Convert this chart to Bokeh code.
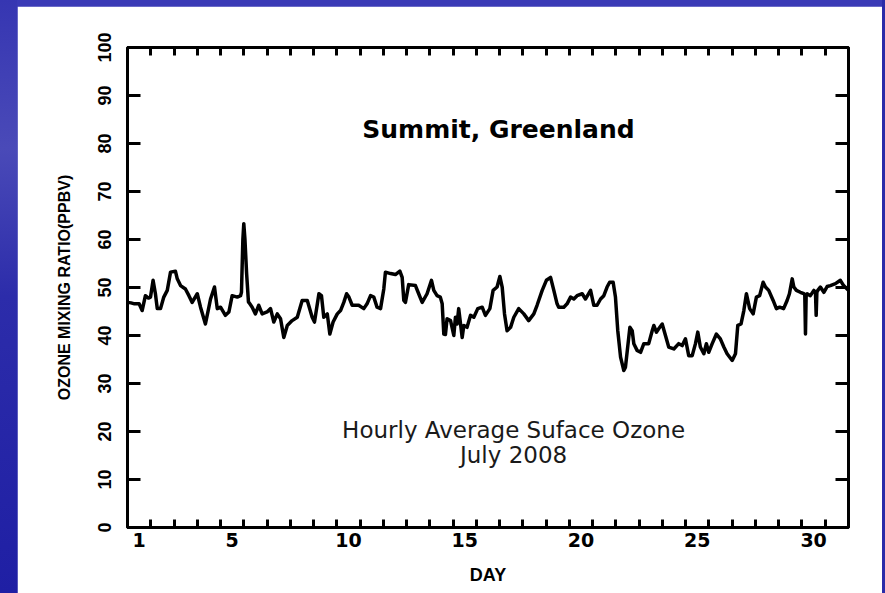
import numpy as np
from bokeh.plotting import figure
from bokeh.models import FixedTicker, LinearAxis, Label, Range1d, Spacer
from bokeh.layouts import row, column
from bokeh.embed import file_html
from bokeh.resources import INLINE

# ---- data: time in days of July 2008 (1.0 = July 1, 00:00), ozone in ppbv ----
DAY_TIME = [
    1.00, 1.15, 1.30, 1.50, 1.63, 1.77, 1.90, 1.99, 2.10, 2.20, 2.28, 2.42, 2.56, 2.71, 2.85,
    3.06, 3.14, 3.28, 3.49, 3.64, 3.78, 4.00, 4.14, 4.35, 4.50, 4.57, 4.74, 4.86, 5.00, 5.21,
    5.36, 5.50, 5.72, 5.86, 5.90, 5.96, 6.00, 6.05, 6.12, 6.20, 6.26, 6.36, 6.50, 6.64, 6.79,
    7.00, 7.15, 7.29, 7.44, 7.58, 7.72, 7.87, 8.08, 8.30, 8.51, 8.73, 8.94, 9.04, 9.23, 9.34,
    9.44, 9.59, 9.70, 9.84, 10.02, 10.16, 10.30, 10.42, 10.52, 10.66, 10.94, 11.16, 11.30, 11.45,
    11.59, 11.73, 11.88, 12.02, 12.09, 12.31, 12.52, 12.71, 12.81, 12.88, 12.95, 13.09, 13.38,
    13.52, 13.67, 13.88, 14.07, 14.17, 14.31, 14.45, 14.53, 14.60, 14.67, 14.74, 14.89, 15.03,
    15.10, 15.17, 15.24, 15.32, 15.39, 15.46, 15.60, 15.75, 15.89, 16.06, 16.25, 16.39, 16.58,
    16.72, 16.89, 17.01, 17.11, 17.21, 17.32, 17.47, 17.61, 17.82, 18.04, 18.25, 18.47, 18.61,
    18.83, 19.01, 19.19, 19.33, 19.47, 19.54, 19.76, 19.90, 20.05, 20.19, 20.33, 20.55, 20.69,
    20.91, 21.05, 21.19, 21.34, 21.48, 21.62, 21.73, 21.88, 21.98, 22.08, 22.20, 22.34, 22.41,
    22.60, 22.70, 22.77, 22.91, 23.06, 23.20, 23.41, 23.56, 23.63, 23.74, 23.84, 23.99, 24.13,
    24.27, 24.49, 24.70, 24.85, 24.99, 25.13, 25.28, 25.42, 25.52, 25.63, 25.78, 25.89, 25.99,
    26.14, 26.32, 26.49, 26.64, 26.78, 27.00, 27.14, 27.24, 27.38, 27.50, 27.61, 27.75, 27.90,
    28.04, 28.18, 28.33, 28.43, 28.57, 28.76, 28.90, 29.04, 29.21, 29.36, 29.46, 29.58, 29.65,
    29.76, 29.93, 30.08, 30.12, 30.15, 30.18, 30.22, 30.36, 30.51, 30.58, 30.61, 30.64, 30.68,
    30.79, 30.94, 31.08, 31.22, 31.44, 31.65, 31.79, 31.94, 32.00,
]
OZONE_PPBV = [
    46.9, 46.8, 46.6, 46.6, 45.2, 48.3, 47.8, 48.0, 51.5, 48.7, 45.6, 45.6, 48.0, 49.4, 53.2,
    53.4, 51.8, 50.4, 49.7, 48.3, 46.9, 48.7, 45.9, 42.4, 45.9, 47.6, 50.1, 45.6, 45.9, 44.2,
    44.9, 48.3, 48.0, 48.3, 49.0, 60.0, 63.3, 60.0, 53.0, 47.0, 46.6, 45.9, 44.5, 46.3, 44.5,
    44.9, 45.6, 42.8, 44.5, 43.5, 39.6, 42.1, 43.1, 43.8, 47.3, 47.3, 43.8, 42.8, 48.7, 48.3,
    43.8, 44.5, 40.3, 42.8, 44.5, 45.2, 46.9, 48.7, 48.0, 46.3, 46.3, 45.6, 46.6, 48.3,
    48.0, 45.9, 45.6, 49.7, 53.2, 52.9, 52.7, 53.4, 52.1, 47.3, 46.9, 50.6, 50.4,
    48.7, 46.9, 48.7, 51.5, 49.4, 48.3, 48.0, 46.6, 40.3, 40.2, 43.5, 43.1, 40.0,
    43.8, 42.4, 45.6, 42.4, 39.6, 42.1, 41.7, 44.2, 43.8, 45.6, 45.9, 44.2, 45.6,
    49.4, 50.1, 52.3, 50.1, 44.5, 41.0, 41.7, 43.8, 45.6, 44.5, 43.1, 44.5, 46.3,
    49.4, 51.5, 52.1, 49.4, 46.6, 45.9, 45.9, 46.6, 48.0, 47.6, 48.3, 48.7, 47.6,
    49.4, 46.3, 46.3, 47.6, 48.3, 50.1, 51.1, 51.1, 48.0, 41.0, 35.5, 32.7, 33.4,
    41.7, 41.0, 38.3, 36.9, 36.5, 38.3, 38.3, 41.0, 42.1, 40.7, 41.4, 42.4, 40.0,
    37.6, 37.2, 38.3, 37.9, 39.3, 35.8, 35.8, 38.3, 40.7, 37.6, 36.2, 38.3, 36.5,
    38.3, 40.3, 39.3, 37.6, 36.2, 34.8, 36.2, 42.1, 42.4, 45.2, 48.7, 45.6, 44.5,
    48.0, 48.3, 51.1, 50.1, 49.4, 47.3, 45.6, 45.9, 45.6, 47.3, 48.7, 51.8, 50.1,
    49.4, 49.0, 48.7, 48.5, 40.3, 48.5, 48.7, 48.3, 49.4, 49.0, 44.2, 49.0, 49.4,
    50.1, 49.0, 50.2, 50.4, 50.8, 51.5, 50.4, 49.7, 49.4,
]
DAY_LABELS = [1, 5, 10, 15, 20, 25, 30]
DAY_BOUNDS = list(range(2, 32))
Y_TICKS = [0, 10, 20, 30, 40, 50, 60, 70, 80, 90, 100]
Y_RIGHT_TICKS = [10, 20, 30, 40, 50, 60, 70, 80, 90]

# x axis convention: integer = noon of that day (day labels centred on each day)
x = np.array(DAY_TIME) - 0.5
bounds = [b - 0.5 for b in DAY_BOUNDS]

BOLD_NARROW = "'Liberation Sans Narrow', 'Liberation Sans', sans-serif"

p = figure(width=865, height=587, x_range=Range1d(0.5, 31.5), y_range=Range1d(0, 100),
           output_backend="svg", toolbar_location=None,
           min_border_left=110, min_border_right=34, min_border_top=41, min_border_bottom=66,
           background_fill_color="white", border_fill_color="white")
p.grid.visible = False
p.outline_line_color = "black"
p.outline_line_width = 3

p.line(x, OZONE_PPBV, line_color="black", line_width=3.5, line_join="round")

# bottom axis
xa = p.xaxis[0]
xa.ticker = FixedTicker(ticks=DAY_LABELS, minor_ticks=bounds)
xa.major_tick_in = 0
xa.major_tick_out = 0
xa.minor_tick_in = 8
xa.minor_tick_out = 0
xa.minor_tick_line_width = 3
xa.axis_line_width = 3
xa.major_label_standoff = 5
xa.major_label_text_font = "'DejaVu Sans', sans-serif"
xa.major_label_text_font_style = "bold"
xa.major_label_text_font_size = "19px"
xa.major_label_text_color = "black"
xa.axis_label = "DAY"
xa.axis_label_text_font = "'Liberation Sans', sans-serif"
xa.axis_label_text_font_style = "bold"
xa.axis_label_text_font_size = "18px"
xa.axis_label_text_color = "black"
xa.axis_label_standoff = 15

# left axis
ya = p.yaxis[0]
ya.ticker = FixedTicker(ticks=Y_TICKS, minor_ticks=[])
ya.major_tick_in = 13
ya.major_tick_out = 0
ya.major_tick_line_width = 3
ya.minor_tick_in = 0
ya.minor_tick_out = 0
ya.axis_line_width = 3
ya.major_label_orientation = "vertical"
ya.major_label_standoff = 17
ya.major_label_text_font = BOLD_NARROW
ya.major_label_text_font_style = "bold"
ya.major_label_text_font_size = "18px"
ya.major_label_text_color = "black"
ya.axis_label = "OZONE MIXING RATIO(PPBV)"
ya.axis_label_text_font = BOLD_NARROW
ya.axis_label_text_font_style = "bold"
ya.axis_label_text_font_size = "16px"
ya.axis_label_text_color = "black"
ya.axis_label_standoff = 22

# top axis (ticks only)
top = LinearAxis(ticker=FixedTicker(ticks=[], minor_ticks=bounds),
                 major_tick_in=0, major_tick_out=0, minor_tick_in=8, minor_tick_out=0,
                 minor_tick_line_width=3, axis_line_width=3)
p.add_layout(top, "above")

# right axis (ticks only)
right = LinearAxis(ticker=FixedTicker(ticks=[], minor_ticks=Y_RIGHT_TICKS),
                   major_tick_in=0, major_tick_out=0, minor_tick_in=13, minor_tick_out=0,
                   minor_tick_line_width=3, axis_line_width=3)
p.add_layout(right, "right")

p.add_layout(Label(x=16.45, y=82.9, text="Summit, Greenland", text_align="center",
                   text_baseline="middle", text_font="'DejaVu Sans', sans-serif",
                   text_font_style="bold", text_font_size="25px", text_color="black"))
p.add_layout(Label(x=17.1, y=20.3, text="Hourly Average Suface Ozone", text_align="center",
                   text_baseline="middle", text_font="'DejaVu Sans', sans-serif",
                   text_font_size="23px", text_color="#1a1a1a"))
p.add_layout(Label(x=17.1, y=15.2, text="July 2008", text_align="center",
                   text_baseline="middle", text_font="'DejaVu Sans', sans-serif",
                   text_font_size="23px", text_color="#1a1a1a"))

BLUE = "#2b2ba8"
bg = {"background": "linear-gradient(180deg, #3a3ab6 0%, #2c2caa 45%, #2222a6 100%)"}
left_sp = Spacer(width=17, height=593, styles={"background": "linear-gradient(180deg, #3636b2 0%, #4a4ab8 25%, #2c2caa 50%, #1f1fa4 100%)"})
top_sp = Spacer(width=865, height=6, styles={"background-color": "#3a3ab6"})
right_sp = Spacer(width=3, height=593, styles={"background-color": BLUE})
layout = row(left_sp, column(top_sp, p, spacing=0), right_sp, spacing=0, styles=bg)

open("out.html", "w").write(file_html(layout, INLINE))
